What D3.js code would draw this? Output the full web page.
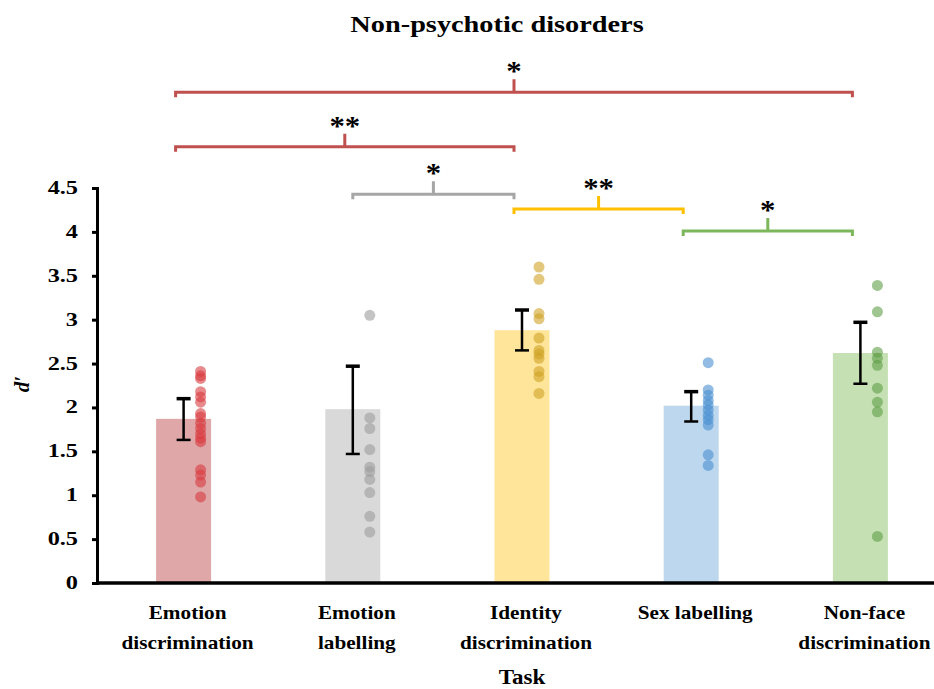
<!DOCTYPE html>
<html>
<head>
<meta charset="utf-8">
<script src="https://cdn.jsdelivr.net/npm/d3@7/dist/d3.min.js"></script>
<style>
  html, body { margin: 0; padding: 0; background: #fff; }
  svg { display: block; }
  text { font-family: "Liberation Serif", "Times New Roman", serif; font-weight: bold; fill: #000; }
</style>
</head>
<body>
<svg id="chart" width="934" height="689"></svg>
<script>
// Tasks (two-line labels) and mean d' per task
const tasks = ["Emotion discrimination", "Emotion labelling", "Identity discrimination", "Sex labelling", "Non-face discrimination"];
const taskLines = [["Emotion", "discrimination"], ["Emotion", "labelling"], ["Identity", "discrimination"], ["Sex labelling"], ["Non-face", "discrimination"]];
const means = [1.87, 1.98, 2.88, 2.02, 2.62];
const errLow = [1.63, 1.47, 2.65, 1.84, 2.27];
const errHigh = [2.10, 2.47, 3.11, 2.18, 2.97];

// Individual participant scores per task
const emotionDiscrimination = [2.41, 2.36, 2.33, 2.18, 2.12, 2.06, 1.93, 1.89, 1.82, 1.76, 1.70, 1.65, 1.61, 1.29, 1.23, 1.15, 0.98];
const emotionLabelling = [3.05, 1.88, 1.76, 1.52, 1.32, 1.27, 1.18, 1.03, 0.76, 0.58];
const identityDiscrimination = [3.60, 3.46, 3.07, 3.01, 2.79, 2.65, 2.61, 2.56, 2.41, 2.35, 2.16];
const sexLabelling = [2.51, 2.20, 2.14, 2.08, 2.03, 1.97, 1.91, 1.86, 1.80, 1.46, 1.34];
const nonFaceDiscrimination = [3.39, 3.09, 2.63, 2.56, 2.48, 2.22, 2.06, 1.95, 0.53];
const points = [emotionDiscrimination, emotionLabelling, identityDiscrimination, sexLabelling, nonFaceDiscrimination];

const yTicks = [0, 0.5, 1, 1.5, 2, 2.5, 3, 3.5, 4, 4.5];

// Significance brackets between tasks (level in d' units above the axis)
const brackets = [
  { from: 0, to: 4, level: 5.59, label: "*" },
  { from: 0, to: 2, level: 4.97, label: "**" },
  { from: 1, to: 2, level: 4.43, label: "*" },
  { from: 2, to: 3, level: 4.26, label: "**" },
  { from: 3, to: 4, level: 4.01, label: "*" }
];

// Colours
const barColors = ["#dfa7a7", "#d9d9d9", "#ffe599", "#bdd7ee", "#c5e0b3"];
const dotColors = ["#d83b40", "#9c9c9c", "#cfa225", "#4a8fd0", "#5f9e48"];
const bracketColors = ["#c0504d", "#c0504d", "#a6a6a6", "#ffc000", "#7db75b"];

const svg = d3.select("#chart");

const x = d3.scaleBand().domain(tasks).range([99, 945]).paddingInner(0.675).paddingOuter(0.3375);
const y = d3.scaleLinear().domain([0, 4.5]).range([583, 188]);
const cx = i => x(tasks[i]) + x.bandwidth() / 2;

// horizontally stretched text helper
function stext(g, px, py, str, size, sx, anchor) {
  return g.append("text")
    .attr("transform", `translate(${px},${py}) scale(${sx},1)`)
    .attr("text-anchor", anchor || "middle")
    .style("font-size", size + "px")
    .text(str);
}

// Bars
svg.append("g").selectAll("rect").data(means).join("rect")
  .attr("x", (d, i) => x(tasks[i]))
  .attr("y", d => y(d))
  .attr("width", x.bandwidth())
  .attr("height", d => y(0) - y(d))
  .attr("fill", (d, i) => barColors[i]);

// Participant dots
const dots = svg.append("g");
points.forEach((arr, i) => {
  dots.selectAll(null).data(arr).join("circle")
    .attr("cx", cx(i) + 17)
    .attr("cy", d => y(d))
    .attr("r", 5.5)
    .attr("fill", dotColors[i])
    .attr("fill-opacity", 0.6);
});

// Error bars
const eb = svg.append("g").attr("stroke", "#000").attr("stroke-width", 2.5);
means.forEach((m, i) => {
  const c = cx(i);
  eb.append("line").attr("x1", c).attr("x2", c).attr("y1", y(errLow[i])).attr("y2", y(errHigh[i]));
  eb.append("line").attr("x1", c - 7).attr("x2", c + 7).attr("y1", y(errLow[i])).attr("y2", y(errLow[i]));
  eb.append("line").attr("x1", c - 7).attr("x2", c + 7).attr("y1", y(errHigh[i])).attr("y2", y(errHigh[i])).attr("stroke-width", 3.5);
});

// Y axis
const yAxis = svg.append("g").attr("transform", "translate(97,0)")
  .call(d3.axisLeft(y).tickValues(yTicks).tickSize(5).tickFormat(d3.format("")));
yAxis.select(".domain").attr("stroke", "#000").attr("stroke-width", 3);
yAxis.selectAll(".tick line").attr("stroke", "#000").attr("stroke-width", 3);
yAxis.selectAll(".tick text").remove();
yTicks.forEach(t => {
  stext(svg, 78, y(t) + 6, String(t), 18, 1.35, "end");
});

// X axis baseline
svg.append("line").attr("x1", 96).attr("x2", 945).attr("y1", y(0)).attr("y2", y(0))
  .attr("stroke", "#000").attr("stroke-width", 3.5);

// X tick labels
taskLines.forEach((lines, i) => {
  lines.forEach((ln, k) => {
    stext(svg, cx(i) + 4, 619 + k * 30, ln, 18, 1.18, "middle");
  });
});

// Axis titles
stext(svg, 522, 684, "Task", 20, 1.15, "middle");
svg.append("text")
  .attr("transform", `translate(29,384) rotate(-90)`)
  .attr("text-anchor", "middle")
  .style("font-size", "21px").style("font-style", "italic")
  .text("d\u2032");

// Chart title
stext(svg, 497, 32, "Non-psychotic disorders", 24, 1.18, "middle");

// Significance brackets
const bg = svg.append("g").attr("fill", "none");
brackets.forEach((b, i) => {
  const x1 = cx(b.from) - (b.from === 1 ? 0 : 8);
  const x2 = cx(b.to) - 8;
  const yl = y(b.level);
  const xm = (x1 + x2) / 2;
  bg.append("path")
    .attr("d", `M${x1},${yl + 5}V${yl}H${x2}V${yl + 5}M${xm},${yl}V${yl - 13}`)
    .attr("stroke", bracketColors[i]).attr("stroke-width", 3);
  stext(svg, xm, yl - 12, b.label, 28, 1.1, "middle");
});
</script>
</body>
</html>
